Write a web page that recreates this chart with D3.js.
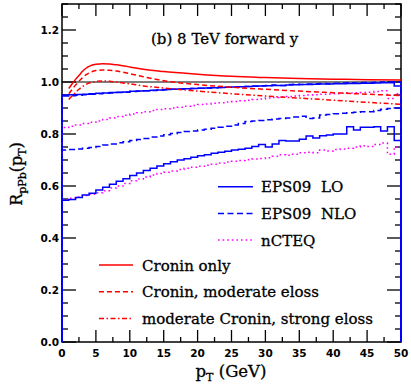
<!DOCTYPE html>
<html><head><meta charset="utf-8">
<script src="https://cdn.jsdelivr.net/npm/d3@7"></script>
<style>body{margin:0;background:#fff}svg{display:block}</style>
</head><body><svg id="c" width="411" height="390"></svg>
<script>
// ---- data (values per 1 GeV bin, bins 0-1 ... 49-50) ----
const xTicks = [0,5,10,15,20,25,30,35,40,45,50];
const yTicks = [0.0,0.2,0.4,0.6,0.8,1.0,1.2];
const title = "(b) 8 TeV forward y";

const eps09LoUpper = [0.950,0.951,0.952,0.953,0.955,0.957,0.958,0.960,0.961,0.962,
 0.964,0.965,0.966,0.968,0.969,0.971,0.972,0.973,0.974,0.975,
 0.976,0.977,0.978,0.979,0.980,0.981,0.982,0.983,0.984,0.985,
 0.986,0.987,0.987,0.988,0.989,0.990,0.990,0.991,0.992,0.992,
 0.993,0.993,0.994,0.994,0.995,0.995,0.996,0.997,0.997,0.985];
const eps09LoLower = [0.545,0.548,0.556,0.565,0.572,0.585,0.595,0.607,0.618,0.628,
 0.640,0.650,0.660,0.668,0.677,0.686,0.693,0.700,0.705,0.711,
 0.716,0.720,0.726,0.730,0.734,0.738,0.741,0.745,0.752,0.760,
 0.750,0.762,0.775,0.773,0.773,0.780,0.792,0.785,0.793,0.796,
 0.800,0.800,0.828,0.815,0.826,0.826,0.828,0.812,0.828,0.775];
const eps09NloUpper = [0.946,0.947,0.949,0.951,0.953,0.955,0.957,0.958,0.960,0.961,
 0.963,0.964,0.966,0.967,0.969,0.970,0.972,0.973,0.974,0.975,
 0.976,0.977,0.978,0.979,0.980,0.981,0.982,0.983,0.985,0.986,
 0.987,0.988,0.987,0.990,0.991,0.990,0.992,0.993,0.994,0.993,
 0.995,0.996,0.997,0.996,0.998,0.998,0.999,1.000,1.001,1.000];
const eps09NloLower = [0.738,0.740,0.742,0.745,0.748,0.752,0.758,0.762,0.766,0.770,
 0.775,0.779,0.783,0.788,0.792,0.797,0.802,0.806,0.810,0.812,
 0.815,0.818,0.822,0.826,0.830,0.835,0.840,0.848,0.850,0.852,
 0.855,0.858,0.860,0.862,0.865,0.868,0.860,0.862,0.873,0.875,
 0.878,0.880,0.882,0.884,0.886,0.886,0.890,0.895,0.898,0.900];
const ncteqUpper = [0.825,0.830,0.835,0.840,0.845,0.850,0.856,0.862,0.867,0.872,
 0.877,0.882,0.886,0.890,0.894,0.897,0.900,0.903,0.907,0.910,
 0.913,0.915,0.918,0.920,0.923,0.925,0.928,0.930,0.933,0.935,
 0.938,0.940,0.942,0.944,0.946,0.948,0.950,0.951,0.953,0.954,
 0.955,0.957,0.958,0.959,0.960,0.961,0.963,0.966,0.937,0.955];
const ncteqLower = [0.548,0.553,0.558,0.563,0.568,0.574,0.582,0.592,0.600,0.610,
 0.620,0.627,0.635,0.642,0.648,0.653,0.658,0.663,0.668,0.672,
 0.676,0.680,0.684,0.688,0.692,0.695,0.698,0.701,0.704,0.706,
 0.709,0.714,0.720,0.718,0.722,0.728,0.730,0.728,0.738,0.735,
 0.740,0.742,0.745,0.750,0.755,0.752,0.760,0.765,0.722,0.750];

// smooth curves
const cronX = [1,1.5,2,2.5,3,3.5,4,5,6,7,8,10,12,15,20,25,30,35,40,45,50];
const croninOnly   = [0.975,0.993,1.010,1.025,1.040,1.052,1.060,1.068,1.070,1.069,1.066,1.058,1.049,1.040,1.030,1.022,1.017,1.013,1.011,1.009,1.008];
const croninModEl  = [0.955,0.972,0.988,1.003,1.016,1.027,1.035,1.044,1.046,1.045,1.042,1.032,1.020,1.005,0.990,0.980,0.972,0.965,0.959,0.953,0.948];
const modCronStrEl = [0.933,0.947,0.960,0.972,0.982,0.990,0.996,1.002,1.004,1.003,1.000,0.993,0.985,0.977,0.965,0.955,0.946,0.938,0.930,0.922,0.914];

const legendPdf = ["EPS09  LO","EPS09  NLO","nCTEQ"];
const legendCron = ["Cronin only","Cronin, moderate eloss","moderate Cronin, strong eloss"];

// ---- layout ----
const svg = d3.select("#c");
const L = 62, R = 401, T = 4, B = 342;
const x = d3.scaleLinear().domain([0,50]).range([L,R]);
const y = d3.scaleLinear().domain([0,1.3]).range([B,T]);
const BLUE = "#0000ff", RED = "#ff0000", MAG = "#ff00ff";
const serif = "'DejaVu Serif', serif";
const heavy = sel => sel.attr("stroke","#000").attr("stroke-width",0.3);

// ticks on all four sides (inward)
const gAx = svg.append("g").attr("stroke","#000").attr("stroke-width",1.3);
d3.range(0,50.01,2.5).forEach(v=>{
  const major = Math.abs(v%5) < 1e-6;
  const len = major?12:5;
  gAx.append("line").attr("x1",x(v)).attr("x2",x(v)).attr("y1",B).attr("y2",B-len);
  gAx.append("line").attr("x1",x(v)).attr("x2",x(v)).attr("y1",T).attr("y2",T+len);
});
d3.range(0,1.3001,0.05).forEach(v=>{
  const major = Math.abs((v/0.2) - Math.round(v/0.2)) < 1e-6;
  const len = major?14:6;
  gAx.append("line").attr("y1",y(v)).attr("y2",y(v)).attr("x1",L).attr("x2",L+len);
  gAx.append("line").attr("y1",y(v)).attr("y2",y(v)).attr("x1",R).attr("x2",R-len);
});
svg.append("rect").attr("x",L).attr("y",T).attr("width",R-L).attr("height",B-T)
  .attr("fill","none").attr("stroke","#000").attr("stroke-width",1.5);

// tick labels
const tickFont = "'DejaVu Sans', sans-serif";
svg.append("g").selectAll("text").data(xTicks).join("text")
  .attr("x",d=>x(d)).attr("y",357).attr("text-anchor","middle")
  .attr("font-family",tickFont).attr("font-weight","bold").attr("font-size",10.5)
  .text(d=>d);
svg.append("g").selectAll("text").data(yTicks).join("text")
  .attr("x",59).attr("y",d=>y(d)+4).attr("text-anchor","end")
  .attr("font-family",tickFont).attr("font-weight","bold").attr("font-size",10.5)
  .text(d=>d3.format(".1f")(d));

// reference line at 1
svg.append("line").attr("x1",L).attr("x2",R).attr("y1",y(1)).attr("y2",y(1))
  .attr("stroke","#000").attr("stroke-width",1);

// histograms
const hist = vals => {
  const pts = [[0,0]].concat(vals.map((v,i)=>[i,v]), [[50,vals[vals.length-1]],[50,0]]);
  return d3.line().x(d=>x(d[0])).y(d=>y(d[1])).curve(d3.curveStepAfter)(pts);
};
const smooth = vals => d3.line().x((d,i)=>x(cronX[i])).y(d=>y(d)).curve(d3.curveMonotoneX)(vals);

const styles = {
  solid: null, dash: "6,3.5", dot: "1.6,3", rdash: "5,3", rdot: "5,2.5,1.5,2.5"
};
const gC = svg.append("g").attr("fill","none").attr("stroke-width",1.5);
[[ncteqUpper,MAG,styles.dot],[ncteqLower,MAG,styles.dot],
 [eps09NloUpper,BLUE,styles.dash],[eps09NloLower,BLUE,styles.dash],
 [eps09LoUpper,BLUE,null],[eps09LoLower,BLUE,null]].forEach(([v,c,d])=>{
  gC.append("path").attr("d",hist(v)).attr("stroke",c).attr("stroke-dasharray",d);
});
[[croninOnly,null],[croninModEl,styles.rdash],[modCronStrEl,styles.rdot]].forEach(([v,d])=>{
  gC.append("path").attr("d",smooth(v)).attr("stroke",RED).attr("stroke-dasharray",d);
});

// title
heavy(svg.append("text").attr("x",151).attr("y",44).attr("font-family",serif).attr("font-size",15)
  .text(title));

// legends
const lg1 = [[BLUE,null],[BLUE,styles.dash],[MAG,styles.dot]];
legendPdf.forEach((t,i)=>{
  const yy = 186.7 + i*26.7;
  svg.append("line").attr("x1",218).attr("x2",253).attr("y1",yy).attr("y2",yy)
    .attr("stroke",lg1[i][0]).attr("stroke-width",1.5).attr("stroke-dasharray",lg1[i][1]);
  heavy(svg.append("text").attr("x",261).attr("y",yy+5.5).attr("font-family",serif).attr("font-size",15)
    .style("white-space","pre").text(t));
});
const lg2 = [null,styles.rdash,styles.rdot];
legendCron.forEach((t,i)=>{
  const yy = 265 + i*26.7;
  svg.append("line").attr("x1",99).attr("x2",133).attr("y1",yy).attr("y2",yy)
    .attr("stroke",RED).attr("stroke-width",1.5).attr("stroke-dasharray",lg2[i]);
  heavy(svg.append("text").attr("x",142).attr("y",yy+5.5).attr("font-family",serif).attr("font-size",15)
    .text(t));
});

// axis titles
const xl = heavy(svg.append("text").attr("x",231).attr("y",377).attr("text-anchor","middle")
  .attr("font-family",serif).attr("font-size",16.5));
xl.append("tspan").text("p");
xl.append("tspan").attr("font-size",11).attr("dy",4).text("T");
xl.append("tspan").attr("dy",-4).text(" (GeV)");

const yl = heavy(svg.append("text").attr("transform","translate(22,174) rotate(-90)")
  .attr("text-anchor","middle").attr("font-family",serif).attr("font-size",16));
yl.append("tspan").text("R");
yl.append("tspan").attr("font-size",11).attr("dy",4).text("pPb");
yl.append("tspan").attr("dy",-4).text("(p");
yl.append("tspan").attr("font-size",11).attr("dy",4).text("T");
yl.append("tspan").attr("dy",-4).text(")");
</script></body></html>
